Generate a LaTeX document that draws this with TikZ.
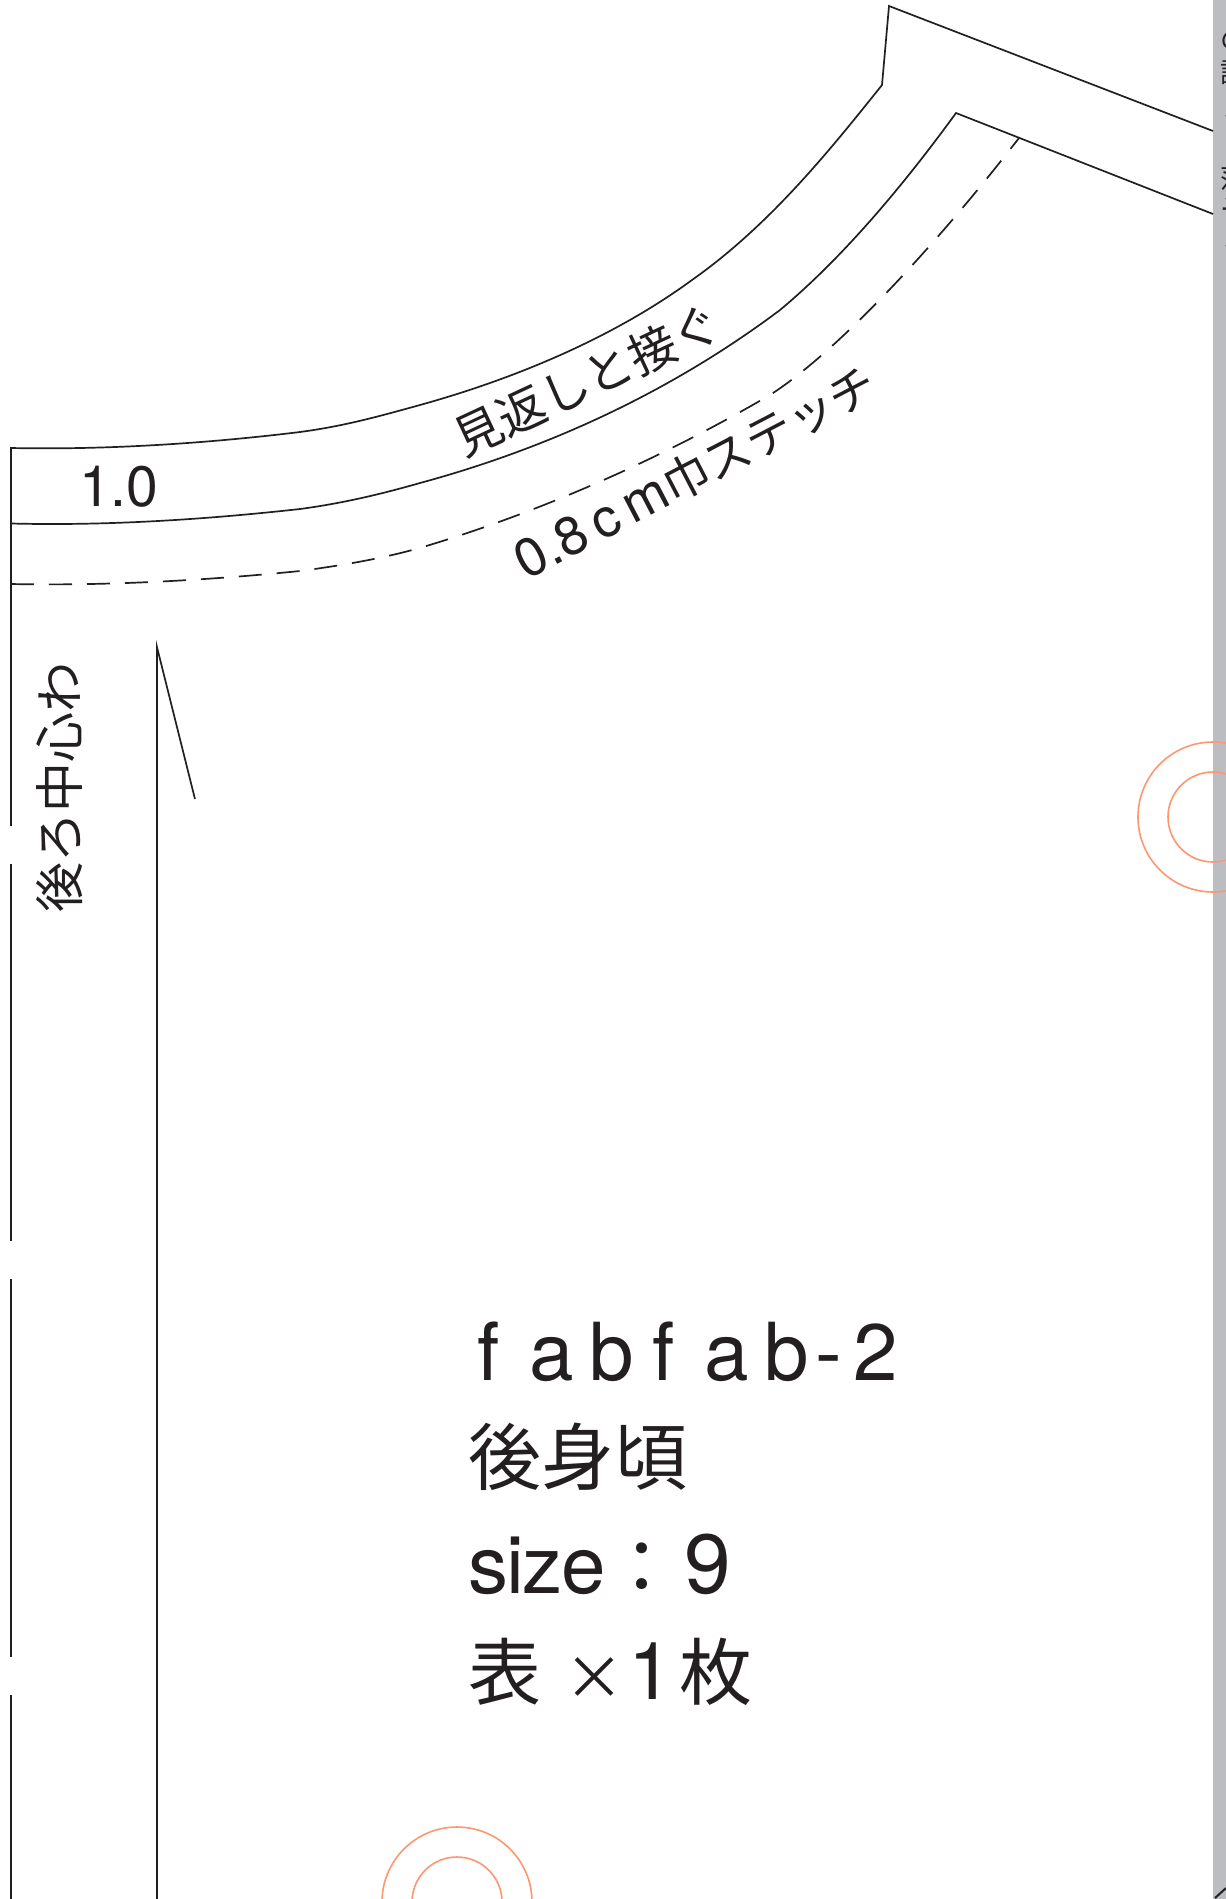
\documentclass[tikz,border=0pt]{standalone}
\usepackage{fontspec}
\newfontfamily\jp{Noto Sans CJK JP}
\newfontfamily\lat{TeX Gyre Heros}
\newfontfamily\lattight[LetterSpace=-2]{TeX Gyre Heros}
\definecolor{ink}{HTML}{231F20}
\definecolor{band}{HTML}{BCBDC1}
\definecolor{mark}{HTML}{FF9670}
\tikzset{
  pat/.style={draw=ink,line width=1.7pt},
  stitch/.style={pat,dash pattern=on 23pt off 15pt},
  ring/.style={draw=mark,line width=1.6pt},
  lab/.style={inner sep=0pt,outer sep=0pt,text=ink,font=\jp},
}
\begin{document}
\begin{tikzpicture}[x=1pt,y=-1pt]
\useasboundingbox (0,0) rectangle (1226,1899);
\fill[white] (0,0) rectangle (1226,1899);
\fill[band] (1213,0) rectangle (1226,1899);
% band fragments
\begin{scope}
\clip (1213,0) rectangle (1226,1899);
\foreach \n/\yy/\ch in {a/40/の,b/72/説,c/117/く,d/145/（,e/178/落,f/200/く,g/214/ー,h/247/く}{
  \node[lab,font=\jp\fontsize{27}{27}\selectfont,anchor=west] (frag\n) at (1220,\yy) {\ch};
}
\coordinate (bmA) at (1215,1898);
\coordinate (bmB) at (1226,1888);
\draw[pat,line width=2pt] (bmA) -- (bmB);
\end{scope}
% rings
\begin{scope}
\clip (0,0) rectangle (1226,1899);
\node[ring,circle,minimum size=150pt,inner sep=0pt] (r1) at (1213,817) {};
\node[ring,circle,minimum size=90pt,inner sep=0pt] (r2) at (1213,817) {};
\node[ring,circle,minimum size=150pt,inner sep=0pt] (r3) at (457,1902) {};
\node[ring,circle,minimum size=90pt,inner sep=0pt] (r4) at (457,1902) {};
\end{scope}
% pattern lines
\draw[pat,line join=miter] (1213,131) -- (889,6) -- (882,85)
  .. controls (830,150) and (770,225) .. (692,280)
  .. controls (610,340) and (510,380) .. (420,405)
  .. controls (380,416) and (345,426) .. (300,432)
  .. controls (210,443) and (110,450) .. (11,448) -- (11,826);
\draw[pat] (11,864) -- (11,1241);
\draw[pat] (11,1279) -- (11,1657);
\draw[pat] (11,1695) -- (11,1899);
\draw[pat] (1213,214) -- (956,113)
  .. controls (900,190) and (840,260) .. (780,310)
  .. controls (680,385) and (560,445) .. (420,483)
  .. controls (385,493) and (345,503) .. (300,509)
  .. controls (210,519) and (110,526) .. (11,523.5);
\draw[stitch] (11,584)
  .. controls (110,586) and (210,580) .. (300,571)
  .. controls (345,565) and (385,558) .. (423,547)
  .. controls (530,515) and (650,465) .. (770,395)
  .. controls (840,350) and (940,240) .. (1019,138);
\draw[pat] (195,799) -- (157,647) -- (157,1899);
% labels
\node[lab,font=\jp\fontsize{48}{48}\selectfont,rotate=25] (mikaeshi) at (587,380) {見返しと接ぐ};
\node[lab,font=\jp\fontsize{47}{47}\selectfont,rotate=27.5] (stitchlab) at (696,472) {{\lat\fontsize{54}{54}\selectfont 0.8\kern9pt c\kern9pt m}巾ステッチ};
\node[lab,font=\jp\fontsize{50}{50}\selectfont,rotate=90] (center) at (60,787) {後ろ中心わ};
\node[lab,font=\lat\fontsize{57}{57}\selectfont,anchor=base west] (one) at (79,506) {1.0};
\node[lab,font=\lat\fontsize{80}{80}\selectfont,anchor=base west] (t1) at (477,1380) {f\kern30pt a\kern16pt b\kern18pt f\kern30pt a\kern16pt b\kern6pt -\kern11pt 2};
\node[lab,font=\jp\fontsize{73}{73}\selectfont,anchor=base west] (t2) at (468,1484) {後身頃};
\node[lab,font=\jp\fontsize{73}{73}\selectfont,anchor=base west] (t3) at (468,1593) {{\lattight\fontsize{80}{80}\selectfont size}：\kern6pt{\lat\fontsize{84}{84}\selectfont 9}};
\node[lab,font=\jp\fontsize{73}{73}\selectfont,anchor=base west] (t4) at (468,1699) {表\kern23pt{\jp\fontsize{60}{60}\selectfont ×}\kern4pt{\lat\fontsize{80}{80}\selectfont 1}\kern7pt 枚};
\end{tikzpicture}
\end{document}
